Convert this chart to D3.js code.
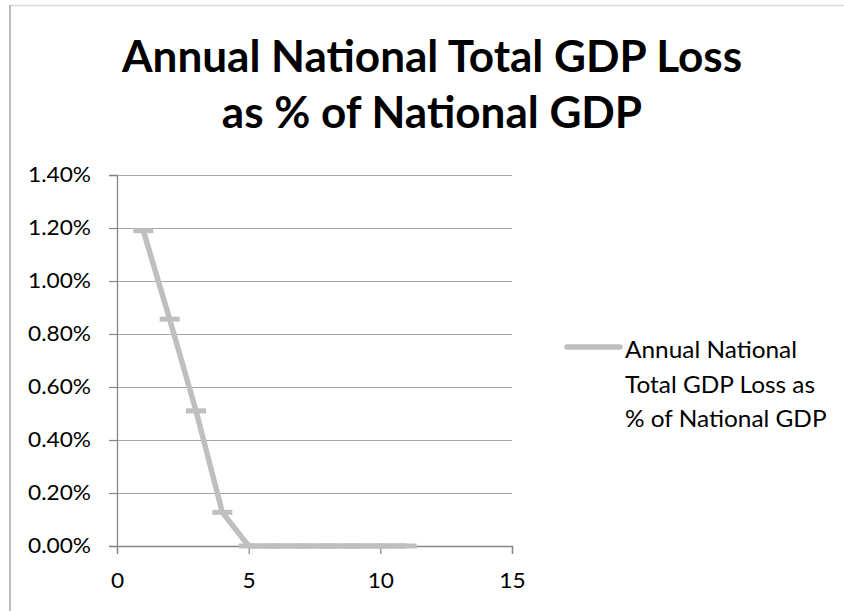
<!DOCTYPE html>
<html>
<head>
<meta charset="utf-8">
<script src="https://cdn.jsdelivr.net/npm/d3@7"></script>
<style>
  html, body { margin: 0; padding: 0; background: #fff; }
  svg { display: block; }
  text { font-family: Lato, "Open Sans", sans-serif; fill: #000; }
</style>
</head>
<body>
<svg id="chart" width="844" height="611"></svg>
<script>
// Series: year index vs. annual national GDP loss (percent of national GDP)
const years = [1, 2, 3, 4, 5, 6, 7, 8, 9, 10, 11];
const lossPct = [1.19, 0.856, 0.51, 0.127, 0, 0, 0, 0, 0, 0, 0];
const xTicks = [0, 5, 10, 15];
const yTicks = [0, 0.2, 0.4, 0.6, 0.8, 1.0, 1.2, 1.4];
const titleLines = ["Annual National Total GDP Loss", "as % of National GDP"];
const legendLines = ["Annual National", "Total GDP Loss as", "% of National GDP"];

const svg = d3.select("#chart");
const W = 844, H = 611;
const lineColor = "#bfbfbf";
const gridColor = "#a6a6a6";
const axisColor = "#868686";

// chart-area frame
svg.append("line").attr("x1", 9).attr("x2", W).attr("y1", 5.5).attr("y2", 5.5)
  .attr("stroke", "#d9d9d9").attr("stroke-width", 1.5);
svg.append("line").attr("x1", 10).attr("x2", 10).attr("y1", 5).attr("y2", H)
  .attr("stroke", "#bdbdbd").attr("stroke-width", 2);

const x = d3.scaleLinear().domain([0, 15]).range([117, 512]);
const y = d3.scaleLinear().domain([0, 1.4]).range([546, 175]);

// Size a group of labels by cap height, then narrow the glyphs so that a
// reference label spans the wanted width.
function styleGroup(sel, fontSize, sampleNode, sampleWidth) {
  sel.style("font-size", fontSize + "px");
  const k = sampleWidth / sampleNode.getComputedTextLength();
  sel.each(function () {
    const w = this.getComputedTextLength();
    d3.select(this).attr("textLength", w * k).attr("lengthAdjust", "spacingAndGlyphs");
  });
}

// gridlines
svg.append("g").selectAll("line").data(yTicks.filter(d => d > 0)).join("line")
  .attr("x1", x(0)).attr("x2", x(15))
  .attr("y1", d => Math.round(y(d)) + 0.5).attr("y2", d => Math.round(y(d)) + 0.5)
  .attr("stroke", gridColor).attr("stroke-width", 1.2);

// y axis
const yAxis = svg.append("g").attr("transform", `translate(${x(0)},0)`)
  .call(d3.axisLeft(y).tickValues(yTicks).tickSize(8).tickPadding(18)
    .tickFormat(d => d3.format(".2f")(d) + "%"));
yAxis.select(".domain").attr("stroke", axisColor).attr("stroke-width", 1.3);
yAxis.selectAll(".tick line").attr("stroke", axisColor).attr("stroke-width", 1.2);
const yLabels = yAxis.selectAll(".tick text").attr("fill", "#000")
  .attr("font-family", "Lato, 'Open Sans', sans-serif");

// x axis
const xAxis = svg.append("g").attr("transform", `translate(0,${y(0)})`)
  .call(d3.axisBottom(x).tickValues(xTicks).tickSize(8).tickPadding(19).tickFormat(d3.format("d")));
xAxis.select(".domain").attr("stroke", axisColor).attr("stroke-width", 1.3);
xAxis.selectAll(".tick line").attr("stroke", axisColor).attr("stroke-width", 1.2);
const xLabels = xAxis.selectAll(".tick text").attr("fill", "#000")
  .attr("font-family", "Lato, 'Open Sans', sans-serif");

const tickFont = 21.5;
yLabels.style("font-size", tickFont + "px");
const tickSample = yLabels.filter(d => d === 1.4).node();
const tickK = 63 / tickSample.getComputedTextLength();
yLabels.each(function () {
  d3.select(this).attr("textLength", this.getComputedTextLength() * tickK)
    .attr("lengthAdjust", "spacingAndGlyphs");
});
xLabels.style("font-size", tickFont + "px").each(function () {
  d3.select(this).attr("textLength", this.getComputedTextLength() * tickK)
    .attr("lengthAdjust", "spacingAndGlyphs");
});

// series line
const pts = years.map((yr, i) => [yr, lossPct[i]]);
svg.append("path").datum(pts)
  .attr("d", d3.line().x(d => x(d[0])).y(d => y(d[1])))
  .attr("fill", "none").attr("stroke", lineColor).attr("stroke-width", 5.5)
  .attr("stroke-linejoin", "round");

// dash markers
svg.append("g").selectAll("rect").data(pts).join("rect")
  .attr("x", d => x(d[0]) - 10).attr("y", d => y(d[1]) - 2.5)
  .attr("width", 20).attr("height", 5)
  .attr("fill", lineColor);

// title
const title = svg.append("g");
const tt = title.selectAll("text").data(titleLines).join("text")
  .attr("x", 432).attr("y", (d, i) => 72 + i * 56).attr("text-anchor", "middle")
  .attr("font-weight", "bold").text(d => d);
styleGroup(tt, 44.5, tt.nodes()[0], 620);

// legend
const legend = svg.append("g");
legend.append("line").attr("x1", 567).attr("x2", 620).attr("y1", 347).attr("y2", 347)
  .attr("stroke", lineColor).attr("stroke-width", 5.5).attr("stroke-linecap", "round");
const lt = legend.selectAll("text").data(legendLines).join("text")
  .attr("x", 625).attr("y", (d, i) => 358 + i * 34.5).text(d => d);
styleGroup(lt, 23, lt.nodes()[0], 172);
</script>
</body>
</html>
